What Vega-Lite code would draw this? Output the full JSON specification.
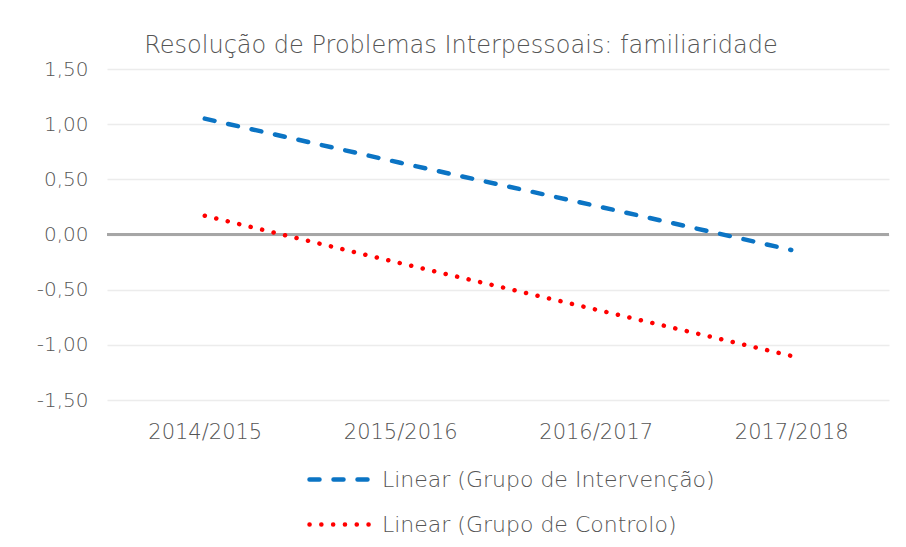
{
  "$schema": "https://vega.github.io/schema/vega-lite/v6.json",
  "width": 782,
  "height": 331,
  "autosize": "none",
  "padding": {"left": 107, "top": 69, "right": 17, "bottom": 147},
  "background": "white",
  "title": {
    "text": "Resolução de Problemas Interpessoais: familiaridade",
    "anchor": "middle",
    "dx": -37,
    "dy": 31,
    "offset": 13,
    "baseline": "alphabetic",
    "fontSize": 24,
    "fontWeight": 300,
    "color": "#555555",
    "font": "DejaVu Sans"
  },
  "config": {
    "view": {"stroke": null},
    "font": "DejaVu Sans",
    "locale": {
      "number": {"decimal": ",", "thousands": ".", "grouping": [3], "currency": ["", " €"], "minus": "-"}
    }
  },
  "data": {
    "values": [
      {"ano": "2014/2015", "valor": 1.05, "grupo": "Linear (Grupo de Intervenção)"},
      {"ano": "2015/2016", "valor": 0.65, "grupo": "Linear (Grupo de Intervenção)"},
      {"ano": "2016/2017", "valor": 0.26, "grupo": "Linear (Grupo de Intervenção)"},
      {"ano": "2017/2018", "valor": -0.14, "grupo": "Linear (Grupo de Intervenção)"},
      {"ano": "2014/2015", "valor": 0.17, "grupo": "Linear (Grupo de Controlo)"},
      {"ano": "2015/2016", "valor": -0.26, "grupo": "Linear (Grupo de Controlo)"},
      {"ano": "2016/2017", "valor": -0.68, "grupo": "Linear (Grupo de Controlo)"},
      {"ano": "2017/2018", "valor": -1.10, "grupo": "Linear (Grupo de Controlo)"}
    ]
  },
  "encoding": {
    "y": {
      "field": "valor",
      "type": "quantitative",
      "title": null,
      "scale": {"domain": [-1.5, 1.5], "nice": false, "zero": false},
      "axis": {
        "values": [-1.5, -1, -0.5, 0, 0.5, 1, 1.5],
        "format": ".2f",
        "domain": false,
        "ticks": false,
        "labelPadding": 19,
        "labelFontSize": 20,
        "labelFontWeight": 300,
        "labelColor": "#555555",
        "gridColor": "#ececec",
        "gridWidth": 1.5
      }
    }
  },
  "layer": [
    {
      "mark": {"type": "rule", "color": "#a6a6a6", "strokeWidth": 2},
      "encoding": {"y": {"datum": 0}}
    },
    {
      "mark": {"type": "line", "strokeWidth": 4.5, "strokeCap": "round"},
      "encoding": {
        "x": {
          "field": "ano",
          "type": "ordinal",
          "title": null,
          "sort": ["2014/2015", "2015/2016", "2016/2017", "2017/2018"],
          "scale": {"type": "point", "padding": 0.5},
          "axis": {
            "labelAngle": 0,
            "domain": false,
            "ticks": false,
            "grid": false,
            "labelPadding": 21,
            "labelFontSize": 21,
            "labelFontWeight": 300,
            "labelColor": "#555555"
          }
        },
        "y": {"field": "valor", "type": "quantitative"},
        "color": {
          "field": "grupo",
          "type": "nominal",
          "scale": {
            "domain": ["Linear (Grupo de Intervenção)", "Linear (Grupo de Controlo)"],
            "range": ["#0B74C4", "#FF0000"]
          },
          "legend": {
            "title": null,
            "orient": "none",
            "legendX": 200,
            "legendY": 377,
            "direction": "vertical",
            "symbolType": "stroke",
            "symbolSize": 3844,
            "symbolStrokeWidth": 4.5,
            "labelFontSize": 22,
            "labelFontWeight": 300,
            "labelLimit": 0,
            "labelColor": "#555555",
            "labelOffset": 8,
            "rowPadding": -26,
            "encode": {"symbols": {"update": {"strokeCap": {"value": "round"}}}}
          }
        },
        "strokeDash": {
          "field": "grupo",
          "type": "nominal",
          "scale": {
            "domain": ["Linear (Grupo de Intervenção)", "Linear (Grupo de Controlo)"],
            "range": [[10, 14], [0.1, 11.7]]
          }
        }
      }
    }
  ]
}
